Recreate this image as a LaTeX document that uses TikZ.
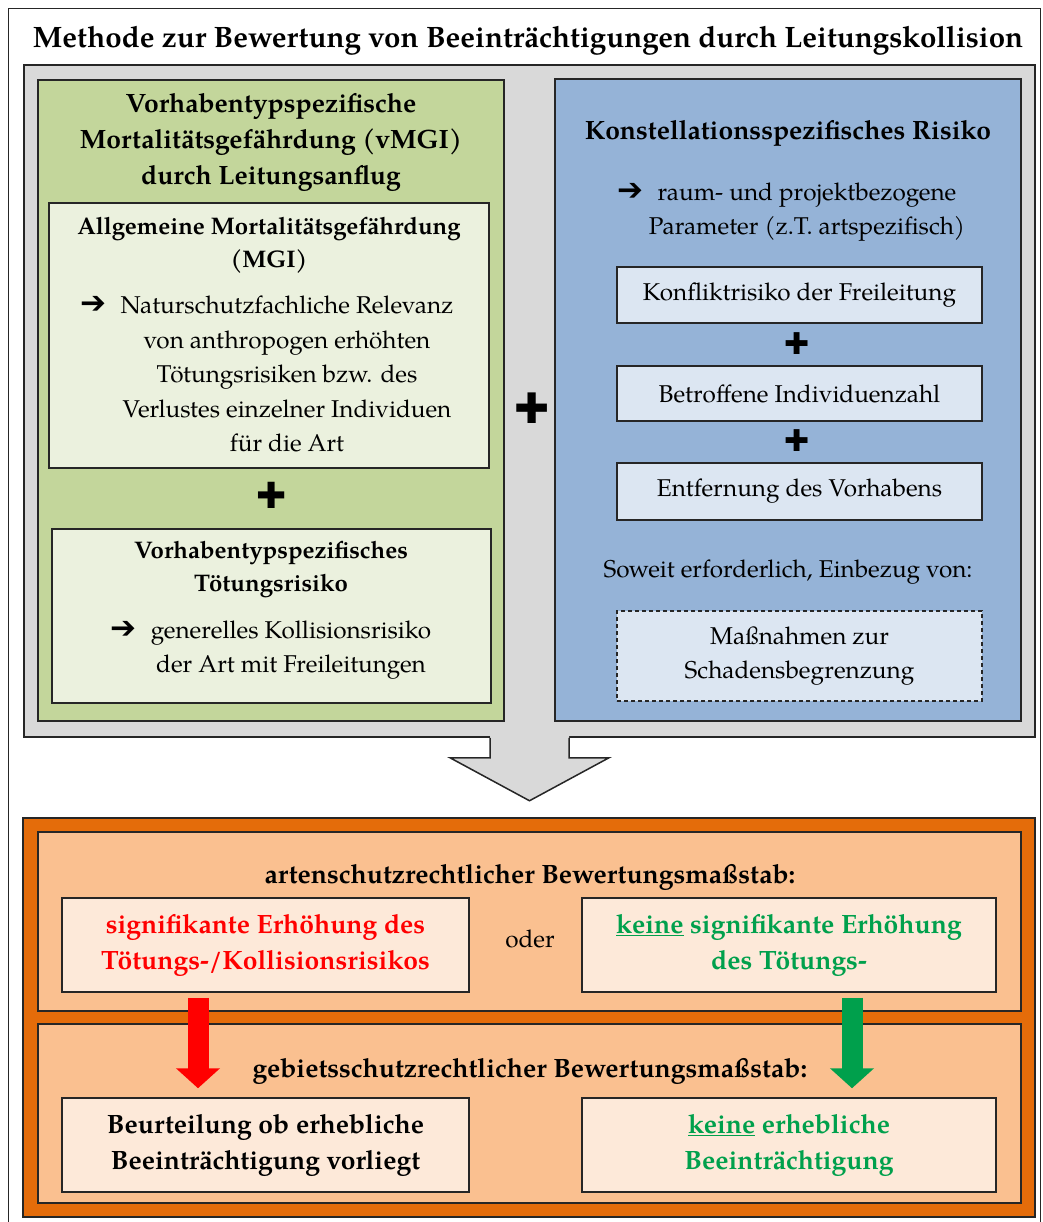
\documentclass[tikz,border=0pt]{standalone}
\usepackage{fontspec}
\setmainfont{texgyrepagella}[Extension=.otf,UprightFont=*-regular,BoldFont=*-bold,ItalicFont=*-italic,BoldItalicFont=*-bolditalic]
\newfontfamily\symfont{DejaVu Sans}
\usetikzlibrary{arrows.meta,calc}
\definecolor{BoxGray}{HTML}{D9D9D9}
\definecolor{OliveBox}{HTML}{C3D69B}
\definecolor{OliveLight}{HTML}{EBF1DE}
\definecolor{SteelBox}{HTML}{95B3D7}
\definecolor{SteelLight}{HTML}{DCE6F2}
\definecolor{OrangeBox}{HTML}{E46C0A}
\definecolor{PeachBox}{HTML}{FAC090}
\definecolor{PeachLight}{HTML}{FDE9D9}
\definecolor{GoodGreen}{HTML}{00A04C}
\definecolor{EdgeDark}{HTML}{262626}
\newcommand{\fbody}{\fontsize{24.3}{34.5}\selectfont}
\newcommand{\fhead}{\fontsize{24}{33}\selectfont\bfseries}
\newcommand{\fbig}{\fontsize{26.5}{36}\selectfont\bfseries}
\newcommand{\ftitle}{\fontsize{29.5}{34}\selectfont\bfseries}
\newcommand{\arrbullet}{\llap{{\symfont\bfseries\fontsize{31}{31}\selectfont ➔}\hspace{14pt}}}
\newcommand{\plusglyph}[1]{{\symfont\fontsize{#1}{#1}\selectfont ✚}}

\begin{document}
\begin{tikzpicture}[x=1pt,y=1pt,yscale=-1,xscale=1,
  frame/.style={draw=EdgeDark,line width=1.5pt,inner sep=0pt},
  txt/.style={inner sep=0pt,align=center,font=\fbody},
  plusmark/.style={inner sep=0pt},
  redarr/.style={draw=red,line width=21pt,-{Triangle[width=43pt,length=20pt]},shorten <=5pt,shorten >=9pt},
  greenarr/.style={draw=GoodGreen,line width=21pt,-{Triangle[width=43pt,length=20pt]},shorten <=5pt,shorten >=9pt}]
\useasboundingbox (0,0) rectangle (1042,1222);

%Shape: Rectangle [outer frame]
\draw [draw=EdgeDark,line width=1pt] (8,9) rectangle (1040,1232);
% Text Node
\node (title) [txt,font=\ftitle] at (528,41) {Methode zur Bewertung von Beeinträchtigungen durch Leitungskollision};

%Shape: Rectangle [gray frame]
\node (gray) [frame,fill=BoxGray,minimum width=1011pt,minimum height=672pt] at (529.5,401) {};

%Shape: Rectangle [green column]
\node (olive) [frame,fill=OliveBox,minimum width=466pt,minimum height=641pt] at (271,400.5) {};
% Text Node
\node (olivehd) [txt,font=\fbig] at (271,142) {Vorhabentypspezifische\\Mortalitätsgefährdung (vMGI)\\durch Leitungsanflug};
%Shape: Rectangle
\node (mgi) [frame,fill=OliveLight,minimum width=440pt,minimum height=265pt] at (269,335.5) {};
% Text Node
\node (mgihd) [txt,font=\fhead] at (269,245) {Allgemeine Mortalitätsgefährdung\\(MGI)};
% Text Node
\node (mgitx) [txt] at (287,374) {\arrbullet Naturschutzfachliche Relevanz\\von anthropogen erhöhten\\Tötungsrisiken bzw. des\\Verlustes einzelner Individuen\\für die Art};
% Text Node
\node (plusa) [plusmark] at (272,495) {\plusglyph{36}};
%Shape: Rectangle
\node (vts) [frame,fill=OliveLight,minimum width=439pt,minimum height=174pt] at (271.5,616) {};
% Text Node
\node (vtshd) [txt,font=\fhead] at (271,570) {Vorhabentypspezifisches\\Tötungsrisiko};
% Text Node
\node (vtstx) [txt] at (291,650) {\arrbullet generelles Kollisionsrisiko\\der Art mit Freileitungen};

% Text Node
\node (plusm) [plusmark] at (532,408) {\plusglyph{42}};

%Shape: Rectangle [blue column]
\node (steel) [frame,fill=SteelBox,minimum width=466pt,minimum height=642pt] at (788,400) {};
% Text Node
\node (steelhd) [txt,font=\fbig] at (788,133) {Konstellationsspezifisches Risiko};
% Text Node
\node (steeltx) [txt] at (807,212) {\arrbullet raum- und projektbezogene\\Parameter (z.T. artspezifisch)};
%Shape: Rectangle
\node (konf) [frame,fill=SteelLight,minimum width=365pt,minimum height=56pt,font=\fbody] at (799.5,295) {Konfliktrisiko der Freileitung};
% Text Node
\node (plusb) [plusmark] at (797,344) {\plusglyph{30}};
%Shape: Rectangle
\node (indiv) [frame,fill=SteelLight,minimum width=365pt,minimum height=55pt,font=\fbody] at (799.5,393.5) {Betroffene Individuenzahl};
% Text Node
\node (plusc) [plusmark] at (797,441) {\plusglyph{30}};
%Shape: Rectangle
\node (entf) [frame,fill=SteelLight,minimum width=365pt,minimum height=57pt,font=\fbody] at (799.5,491.5) {Entfernung des Vorhabens};
% Text Node
\node (soweit) [txt] at (788,572) {Soweit erforderlich, Einbezug von:};
%Shape: Rectangle [dashed]
\node (mass) [frame,line width=1.2pt,dash pattern={on 4pt off 3pt},fill=SteelLight,minimum width=365pt,minimum height=90pt,align=center,font=\fbody] at (799.5,656) {Maßnahmen zur\\Schadensbegrenzung};

%Shape: Block arrow [gray]
\fill [BoxGray] ($(gray.south)+(-39.5,-2)$) -- ++(0,23) -- ++(-40,0) -- ($(gray.south)+(0,63)$) -- ($(gray.south)+(79.5,20)$) -- ++(-40,0) -- ++(0,-22) -- cycle;
\draw [draw=EdgeDark,line width=1.5pt,line join=miter] ($(gray.south)+(-39.5,0)$) -- ++(0,20) -- ++(-40,0) -- ($(gray.south)+(0,63)$) -- ($(gray.south)+(79.5,20)$) -- ++(-40,0) -- ++(0,-20);

%Shape: Rectangle [orange frame]
\node (orng) [frame,fill=OrangeBox,minimum width=1012pt,minimum height=399pt] at (529,1017.5) {};
%Shape: Rectangle
\node (artb) [frame,fill=PeachBox,minimum width=983pt,minimum height=179pt] at (529.5,921.5) {};
%Shape: Rectangle
\node (gebb) [frame,fill=PeachBox,minimum width=983pt,minimum height=179pt] at (529.5,1113.5) {};
% Text Node
\node (arthd) [txt,font=\fbig] at (530,877) {artenschutzrechtlicher Bewertungsmaßstab:};
%Shape: Rectangle
\node (rs) [frame,fill=PeachLight,minimum width=407pt,minimum height=94pt,align=center,font=\fbig,text=red] at (265.5,945) {signifikante Erhöhung des\\Tötungs-/Kollisionsrisikos};
% Text Node
\node (oder) [txt] at (530,939) {oder};
%Shape: Rectangle
\node (gs) [frame,fill=PeachLight,minimum width=414pt,minimum height=94pt,align=center,font=\fbig,text=GoodGreen] at (789,945) {\underline{keine} signifikante Erhöhung\\des Tötungs-};
% Text Node
\node (gebhd) [txt,font=\fbig] at (530,1071) {gebietsschutzrechtlicher Bewertungsmaßstab:};
%Shape: Rectangle
\node (rb) [frame,fill=PeachLight,minimum width=407pt,minimum height=94pt,align=center,font=\fbig] at (265.5,1145) {Beurteilung ob erhebliche\\Beeinträchtigung vorliegt};
%Shape: Rectangle
\node (gb) [frame,fill=PeachLight,minimum width=414pt,minimum height=94pt,align=center,font=\fbig,text=GoodGreen] at (789,1145) {\underline{keine} erhebliche\\Beeinträchtigung};

%Straight Lines [red / green arrows]
\coordinate (ra) at (198,0);
\coordinate (ga) at (852,0);
\draw [redarr] (rs.south -| ra) -- (rb.north -| ra);
\draw [greenarr] (gs.south -| ga) -- (gb.north -| ga);

\end{tikzpicture}
\end{document}
